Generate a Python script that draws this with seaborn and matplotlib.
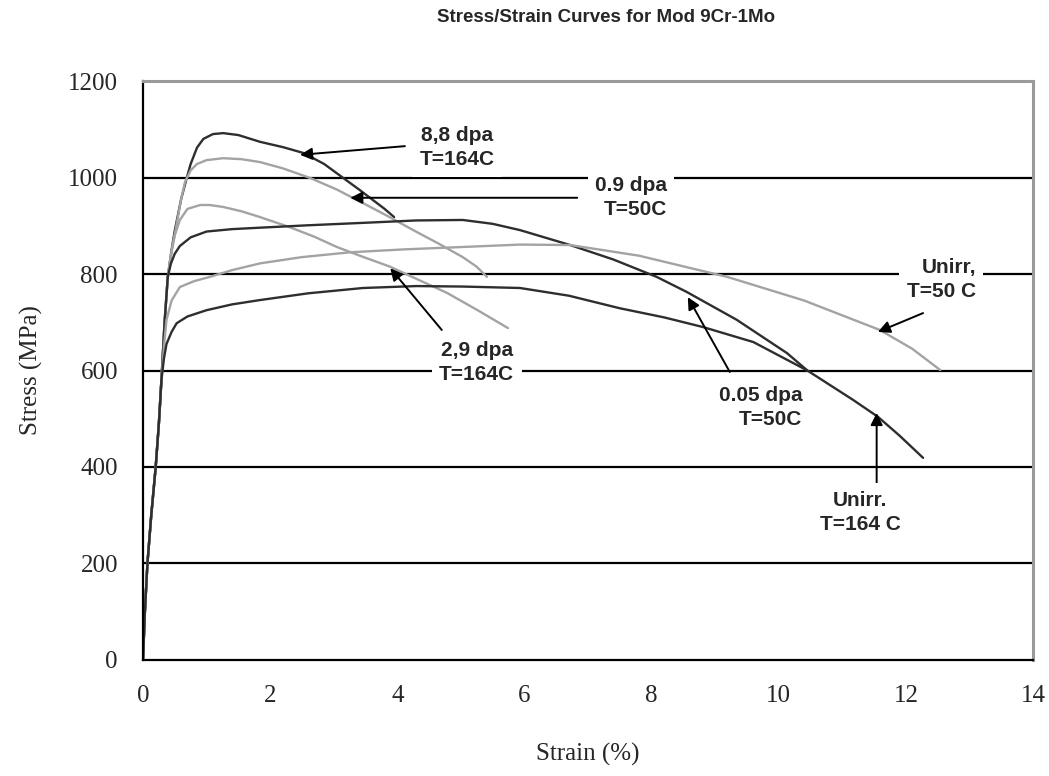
import pandas as pd
import matplotlib
matplotlib.use("Agg")
import matplotlib.pyplot as plt
import seaborn as sns

sns.set_style("white")
plt.rcParams["font.family"] = ["Liberation Serif", "DejaVu Serif"]

# Curvas: deformação (%) e tensão (MPa)
strain_88 = [0, 0.03, 0.07, 0.13, 0.2, 0.25, 0.29, 0.34, 0.39, 0.45, 0.5, 0.6, 0.69, 0.75, 0.85, 0.95,
             1.1, 1.26, 1.5, 1.84, 2.2, 2.52, 2.85, 3.15, 3.4, 3.6, 3.8, 3.95]
stress_88 = [0, 100, 200, 300, 400, 490, 580, 700, 794, 850, 890, 955, 1000, 1028, 1062, 1080,
             1090, 1092, 1088, 1074, 1063, 1051, 1028, 999, 975, 955, 935, 918]

strain_09 = [0, 0.03, 0.07, 0.13, 0.2, 0.25, 0.29, 0.34, 0.39, 0.45, 0.5, 0.6, 0.66, 0.75, 0.85, 1.0,
             1.26, 1.55, 1.84, 2.2, 2.63, 3.05, 3.46, 3.85, 4.25, 4.65, 5.03, 5.25, 5.41]
stress_09 = [0, 100, 200, 300, 400, 490, 580, 700, 794, 845, 882, 955, 990, 1015, 1028, 1036,
             1040, 1038, 1032, 1019, 999, 975, 947, 920, 891, 863, 835, 815, 794]

strain_29 = [0, 0.03, 0.07, 0.13, 0.2, 0.25, 0.29, 0.34, 0.39, 0.45, 0.5, 0.58, 0.7, 0.9, 1.05, 1.26,
             1.55, 1.84, 2.31, 2.7, 3.05, 3.45, 3.89, 4.3, 4.78, 5.25, 5.74]
stress_29 = [0, 100, 200, 300, 400, 490, 580, 700, 794, 850, 880, 912, 935, 943, 943, 939,
             930, 918, 897, 877, 856, 836, 815, 790, 761, 726, 688]

strain_005 = [0, 0.03, 0.07, 0.13, 0.2, 0.25, 0.29, 0.34, 0.39, 0.44, 0.5, 0.58, 0.75, 1.0, 1.4, 1.84,
              2.6, 3.46, 4.3, 5.03, 5.5, 5.93, 6.72, 7.4, 8.08, 8.55, 9.34, 10.13, 10.45, 11.17,
              11.56, 11.9, 12.27]
stress_005 = [0, 100, 200, 300, 400, 490, 580, 700, 794, 822, 842, 858, 876, 888, 893, 896,
              901, 906, 911, 912, 904, 891, 860, 830, 794, 763, 705, 636, 600, 539,
              504, 465, 419]

strain_u50 = [0, 0.03, 0.07, 0.13, 0.2, 0.25, 0.29, 0.33, 0.37, 0.45, 0.58, 0.8, 1.05, 1.4, 1.84, 2.5,
              3.26, 4.1, 5.03, 5.93, 6.72, 7.8, 9.19, 10.4, 11.59, 12.1, 12.54]
stress_u50 = [0, 100, 200, 300, 400, 490, 580, 650, 705, 745, 773, 785, 794, 808, 822, 835,
              845, 851, 856, 861, 860, 838, 794, 745, 684, 645, 601]

strain_u164 = [0, 0.03, 0.07, 0.13, 0.2, 0.25, 0.29, 0.33, 0.37, 0.45, 0.53, 0.7, 1.0, 1.4, 1.84, 2.6,
               3.46, 4.3, 5.03, 5.93, 6.7, 7.5, 8.2, 8.81, 9.6, 10.45]
stress_u164 = [0, 100, 200, 300, 400, 490, 580, 625, 655, 680, 698, 712, 725, 737, 746, 760,
               771, 775, 774, 771, 755, 729, 710, 690, 659, 600]

curves = ["8,8 dpa", "0.9 dpa", "2,9 dpa", "0.05 dpa", "Unirr 50", "Unirr 164"]
cores = ["#2e2e2e", "#a3a3a3", "#a3a3a3", "#2e2e2e", "#a3a3a3", "#2e2e2e"]
strains = [strain_88, strain_09, strain_29, strain_005, strain_u50, strain_u164]
stresses = [stress_88, stress_09, stress_29, stress_005, stress_u50, stress_u164]

df = pd.concat(
    [pd.DataFrame({"Strain": s, "Stress": t, "Curve": c}) for s, t, c in zip(strains, stresses, curves)],
    ignore_index=True,
)

fig = plt.figure(figsize=(10.49, 7.76), dpi=100)
ax = fig.add_axes([0.1363, 0.1495, 0.8485, 0.7461])

# grade horizontal preta
for yv in [200, 400, 600, 800, 1000]:
    ax.axhline(yv, color="black", lw=1.6, zorder=1)

sns.lineplot(
    data=df, x="Strain", y="Stress", hue="Curve", palette=dict(zip(curves, cores)),
    sort=False, estimator=None, legend=False, lw=1.7, ax=ax, zorder=2,
)

ax.set_xlim(0, 14)
ax.set_ylim(0, 1200)
ax.set_xticks(range(0, 15, 2))
ax.set_yticks(range(0, 1201, 200))
ax.tick_params(direction="inout", length=8, width=1.3, labelsize=18, pad=14)
ax.set_xlabel("Strain (%)", fontsize=18, labelpad=26)
ax.set_ylabel("Stress (MPa)", fontsize=18, labelpad=18)

for lado in ["left", "bottom"]:
    ax.spines[lado].set_color("black")
    ax.spines[lado].set_linewidth(1.6)
for lado in ["top", "right"]:
    ax.spines[lado].set_color("#9a9a9a")
    ax.spines[lado].set_linewidth(2.2)

# rótulos com fundo branco (cortam a grade) e setas
fonte = dict(family=["Liberation Sans", "DejaVu Sans"], fontsize=15, fontweight="bold",
             linespacing=1.35, zorder=4,
             bbox=dict(boxstyle="square,pad=0.35", fc="white", ec="none"))
ax.text(4.94, 1062, "8,8 dpa\nT=164C", ha="center", va="center", **fonte)
ax.text(8.24, 958, "0.9 dpa\nT=50C", ha="right", va="center", multialignment="right", **fonte)
ax.text(5.25, 617, "2,9 dpa\nT=164C", ha="center", va="center", **fonte)
ax.text(13.1, 788, "Unirr,\nT=50 C", ha="right", va="center", multialignment="right", **fonte)
ax.text(10.37, 523, "0.05 dpa\nT=50C", ha="right", va="center", multialignment="right", **fonte)
ax.text(11.28, 306, "Unirr.\nT=164 C", ha="center", va="center", **fonte)

setas = [
    ((2.47, 1047), (4.12, 1065)),
    ((3.26, 958), (6.83, 958)),
    ((3.89, 812), (4.70, 684)),
    ((11.56, 680), (12.27, 719)),
    ((8.57, 752), (9.23, 597)),
    ((11.54, 512), (11.54, 359)),
]
for ponta, cauda in setas:
    ax.annotate("", xy=ponta, xytext=cauda, zorder=3,
                arrowprops=dict(arrowstyle="-|>", color="black", lw=1.4,
                                mutation_scale=18, shrinkA=0, shrinkB=0))

fig.text(0.578, 0.978, "Stress/Strain Curves for Mod 9Cr-1Mo", ha="center", va="center",
         family=["Liberation Sans", "DejaVu Sans"], fontsize=13.5, fontweight="bold")

fig.savefig("out.png", dpi=100)
